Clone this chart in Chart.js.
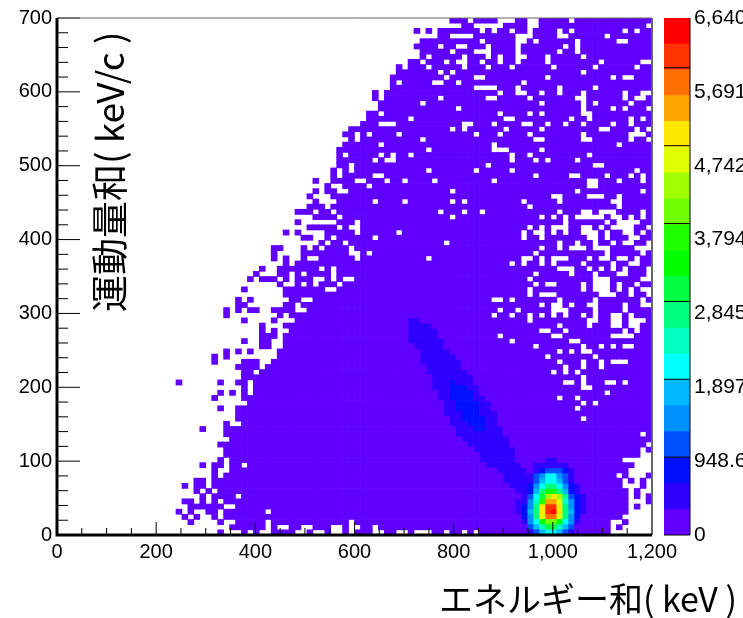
<!DOCTYPE html>
<html>
<head>
<meta charset="utf-8">
<title>エネルギー和 運動量和</title>
<style>
  html, body { margin: 0; padding: 0; background: #fff; overflow: hidden; }
  #wrap { position: relative; width: 743px; height: 618px; }
  #mapChart { position: absolute; left: 0; top: 0; }
  #barChart { position: absolute; left: 655px; top: 0; }
</style>
<script src="https://cdn.jsdelivr.net/npm/chart.js@4"></script>
</head>
<body>
<div id="wrap">
  <canvas id="mapChart" width="743" height="618"></canvas>
  <canvas id="barChart" width="88" height="618"></canvas>
</div>
<script>
// Axis ranges and binning
const xTicks = [0, 200, 400, 600, 800, 1000, 1200];
const yTicks = [0, 100, 200, 300, 400, 500, 600, 700];
const xMinor = [50, 100, 150, 250, 300, 350, 450, 500, 550, 650, 700, 750, 850, 900, 950, 1050, 1100, 1150];
const yMinor = [20, 40, 60, 80, 120, 140, 160, 180, 220, 240, 260, 280, 320, 340, 360, 380, 420, 440, 460, 480, 520, 540, 560, 580, 620, 640, 660, 680];
const zTicks = [0, 1000, 2000, 3000, 4000, 5000, 6000];
const xBin = 12;
const yBin = 7;
const zMax = 6640;

const xTitle = 'エネルギー和( keV )';
const yTitle = '運動量和( keV/c )';

// Palette, lowest contour first
const levelColors = ['#6000ff', '#3000ff', '#0010ff', '#0050ff', '#0090ff', '#00b8ff', '#00ffff', '#00ffc0', '#00ff80', '#00ff40',
  '#00ff00', '#20ff00', '#70ff00', '#a0ff00', '#e0ff00', '#ffe800', '#ffa500', '#ff7000', '#ff3300', '#ff0000'];

// Occupied bins per row, top row first: column numbers and column ranges
const rowSpans = [
  '66-68 70-73 77-78 81-85 87-99',
  '68-69 75-78 81-98',
  '60 62 64-70 72 74-75 77-78 80-83 85 87-94 96 98-99',
  '64-65 70-76 80-83 86-91 93-99',
  '61-70 72-76 79 81-86 88-93 96-99',
  '60-63 65-66 69-71 73-76 78-84 86 88-99',
  '61-65 67-69 73-76 78-83 85-86 88-99',
  '61 63-67 69-71 73 75-76 79-81 83-87 89-99',
  '59-60 62-64 66 69-70 72-73 75-76 78-81 83-90 92-97',
  '57 59-61 63-67 69-71 73-75 77-82 84-89 91-96 98-99',
  '57-63 65 67-87 89-99',
  '56-64 66-69 72-81 83-92 94 97-99',
  '56 58-62 65-66 68-77 79-99',
  '56-69 74-76 78-83 85-89 91-99',
  '53 55-73 75-76 79-80 82-83 85-87 89-94 96-97',
  '53 55-63 65-71 74-78 80-86 89-94 96 99',
  '54-60 62-80 82-87 89 91-95 97-99',
  '54-66 68-87 89-92 94 96-98',
  '52-53 55-73 75-78 80 82-87 90-99',
  '52-58 60-74 77-85 87-88 90-95 97 99',
  '51-53 57-67 70-72 74-77 80-81 83-84 86-87 89-92 94-95 97-99',
  '49-65 67 69-74 76-80 82-90 93-96 98',
  '48-49 51 53-56 58-69 71-73 75-78 80-87 89-95 99',
  '49 51-60 62-79 82-87 90-95 97-98',
  '48-53 55-72 74-93 95-99',
  '47-61 63-72 76-80 82-99',
  '47 49-53 55 57-58 60-75 77-78 80-88 90-99',
  '47-52 54 57-75 77-79 81 83-86 88-99',
  '47-48 50-71 73-89 92-99',
  '46 48 50-61 63-69 71-75 77-96 98-99',
  '46 48-52 55-79 81-85 88-91 93-95 97 99',
  '43 46-49 52-54 56-57 59-62 64-72 74-88 91-93 95-97 99',
  '45 48-51 53-88 91-99',
  '43 45-46 49-99',
  '42 46-99',
  '43 47-99',
  '42-44 46-99',
  '40-42 44-45 47-99',
  '43-46 48-99',
  '40 47-49 51-99',
  '42-46 48 51-99',
  '38 40 45-49 51-56 58-99',
  '41-42 45 47-52 54-99',
  '44 46-47 49-99',
  '36-37 41 43 45-48 50-99',
  '36 41-48 51 53-99',
  '36 38 41 44-49 51-61 63-99',
  '38 40-99',
  '34 37-43 45 47-99',
  '33 37-38 40 42-45 47-99',
  '32 34-36 38 40-42 45 47 50-99',
  '37 40 42 44-46 48-99',
  '31 38-44 47-99',
  '38-99',
  '30 32 39-40 43-99',
  '30-31 38-39 41-99',
  '28 30 32-33 36-39 42-99',
  '28 37 39-99',
  '31 36 40-99',
  '34 38-99',
  '34 36 39-99',
  '34-36 38-99',
  '31 34-35 38-99',
  '34-35 38-99',
  '28 30 32 37-99',
  '26 28 37-99',
  '26 31-33 36-99',
  '30-33 35-99',
  '31-32 34-99',
  '31-99',
  '20 27 30-31 33-99',
  '31 33-99',
  '27 29 31 33-99',
  '26 31-99',
  '32-99',
  '27 30-99',
  '30-99',
  '30-99',
  '28 31-99',
  '24 28-99',
  '28-99',
  '29-99',
  '27-99',
  '28-99',
  '28-99',
  '27 29-94',
  '24 26-27 29-30 32-96',
  '26 29-95',
  '26 28-99',
  '23-24 26-99',
  '21 23-24 26-99',
  '23 25 27-99',
  '24 26-29 31-99',
  '21-22 24 26 28-99',
  '22-27 30-99',
  '20 22 25-26 28-34 36-95',
  '21 23 26 28-94',
  '22 27 30-34 36-48 50-92 95',
  '29-34 36 39-40 43-45 48 51-52 54-92 94',
  '27 31 33 36-39 42 45 48 50-52 55-56 59 63-64 66-67 69 71-92'
];

// Empty bins inside those spans, row number then columns
const rowHoles = {
  33: '66 87 98',
  34: '83 84 89 90 91 94',
  35: '53 58 66 68 78 84 93 94',
  36: '79 94',
  37: '64 68 71 84 88 89 91 92 93 98',
  38: '66 81 83 85 87 88 89 90 91 93 94 96 98',
  39: '85 92 94 95 96 97',
  40: '79 81 83 84 85 88 89 91 93 94 95 96 99',
  41: '78 80 81 83 85 88 89 90 92 95 96 98',
  42: '78 81 89 90 92 96 97',
  43: '65 84 87 90 93 95 96 99',
  44: '81 84 86 87 88 90 91 92 97 98 99',
  45: '80 92 98',
  46: '78 79 81 83 84 85 89 91 92 94 95 97',
  47: '76 78 81 83 88 93 96 97',
  48: '84 85 86 89 91 93 95 99',
  49: '80 86 90 94 95 99',
  50: '79 90 91 92 98 99',
  51: '80 82 83 88 90 91 92 94 97',
  52: '79 88 90 91 92 94 96 98 99',
  53: '79 81 82 83 91 92 93 96 99',
  54: '73 74 76 84 90 98',
  55: '81 83 84 86 89 90 95 98 99',
  56: '74 77 83 84 85 90 95',
  57: '73 76 79 81 83 85 88 90 93 94 96',
  58: '79 89 90 93 94 96 97 98',
  59: '84 89 93 94 96 97',
  60: '81 82 85 95 97',
  61: '74 83 84 93 94 95 96',
  62: '76 86 87',
  63: '80 88 91 93 95 96',
  64: '84 86 88 89',
  65: '82 90',
  66: '84 88 91 93 94 95',
  67: '85 88 91',
  68: '83 85 87',
  69: '88',
  70: '85 86 88 92 93 95',
  71: '88 89',
  72: '92',
  73: '84 87',
  74: '88 90',
  75: '87',
  77: '88',
  80: '98',
  82: '99',
  83: '98',
  84: '98 99',
  85: '95 97 98',
  87: '',
  88: '94 96 97 98',
  89: '95 97 99',
  90: '95 96 97 99',
  91: '96 98 99',
  92: '96 98',
  93: '96 97 98',
  94: '96 98 99'
};

// Contour level of the low diagonal band, [row, first column, last column, level]
const bandRuns = [
  [58, 59, 60, 1], [59, 59, 62, 1], [60, 59, 63, 1], [61, 59, 63, 1], [62, 59, 64, 1], [63, 60, 64, 1], [64, 61, 65, 1],
  [65, 61, 66, 1], [66, 61, 67, 1], [67, 62, 67, 1], [68, 62, 68, 1], [69, 63, 69, 1], [70, 63, 69, 1], [71, 63, 70, 1],
  [72, 64, 70, 1], [73, 64, 71, 1], [74, 65, 72, 1], [75, 65, 72, 1], [76, 65, 73, 1], [77, 66, 73, 1], [78, 66, 73, 1],
  [79, 67, 74, 1], [80, 67, 74, 1], [81, 68, 75, 1], [82, 69, 75, 1], [83, 70, 76, 1], [84, 71, 76, 1], [85, 71, 76, 1],
  [86, 72, 77, 1], [87, 74, 78, 1], [88, 75, 78, 1], [89, 75, 78, 1], [90, 76, 77, 1], [91, 77, 77, 1],
  [70, 66, 66, 2], [71, 66, 68, 2], [72, 66, 69, 2], [73, 66, 69, 2], [74, 67, 70, 2], [75, 67, 70, 2], [76, 68, 70, 2],
  [77, 68, 71, 2], [78, 69, 71, 2], [79, 70, 71, 2]
];

// Peak near (1000, 35): row, first column, contour levels (0-9 then a-j)
const peakRows = [
  [85, 82, '11'],
  [86, 80, '111111'],
  [87, 80, '1233321'],
  [88, 79, '13466431'],
  [89, 79, '13566531'],
  [90, 78, '1246886421'],
  [91, 78, '1258aa8521'],
  [92, 78, '1369dfd8321'],
  [93, 77, '1147bgge7421'],
  [94, 77, '1248fiif8421'],
  [95, 77, '1258fijf8521'],
  [96, 78, '248ehhe842'],
  [97, 78, '146acca641'],
  [98, 79, '35799753'],
  [99, 79, '13566531']
];

// Build one level grid from the lists above
const grid = rowSpans.map((spans, row) => {
  const cells = new Array(100).fill(-1);
  spans.split(' ').forEach(span => {
    const ends = span.split('-').map(Number);
    const last = ends.length > 1 ? ends[1] : ends[0];
    for (let c = ends[0]; c <= last; c++) cells[c] = 0;
  });
  if (rowHoles[row]) {
    rowHoles[row].split(' ').filter(Boolean).forEach(c => { cells[Number(c)] = -1; });
  }
  return cells;
});
bandRuns.forEach(run => {
  for (let c = run[1]; c <= run[2]; c++) grid[run[0]][c] = run[3];
});
peakRows.forEach(peak => {
  peak[2].split('').forEach((ch, i) => { grid[peak[0]][peak[1] + i] = parseInt(ch, 20); });
});

// One floating-bar dataset per contour level
const levelData = levelColors.map(() => []);
grid.forEach((cells, row) => {
  const top = 700 - row * yBin;
  cells.forEach((level, col) => {
    if (level >= 0) levelData[level].push({ x: col * xBin + xBin / 2, y: [top - yBin, top] });
  });
});

const tickFont = { family: '"Liberation Sans", Arial, sans-serif', size: 20 };

// ROOT style axes: ticks point inward and sit on top of the cells
const frameAxes = {
  id: 'frameAxes',
  afterDatasetsDraw(chart) {
    const { ctx, chartArea: a, scales: { x, y } } = chart;
    ctx.save();
    ctx.strokeStyle = '#000';
    ctx.lineWidth = 1;
    ctx.beginPath();
    xTicks.forEach(v => { ctx.moveTo(x.getPixelForValue(v), a.bottom); ctx.lineTo(x.getPixelForValue(v), a.bottom - 13); });
    xMinor.forEach(v => { ctx.moveTo(x.getPixelForValue(v), a.bottom); ctx.lineTo(x.getPixelForValue(v), a.bottom - 7); });
    yTicks.forEach(v => { ctx.moveTo(a.left, y.getPixelForValue(v)); ctx.lineTo(a.left + 23, y.getPixelForValue(v)); });
    yMinor.forEach(v => { ctx.moveTo(a.left, y.getPixelForValue(v)); ctx.lineTo(a.left + 11, y.getPixelForValue(v)); });
    ctx.stroke();

    ctx.strokeStyle = '#666';
    ctx.beginPath();
    ctx.moveTo(a.left, a.top);
    ctx.lineTo(a.right, a.top);
    ctx.stroke();
    ctx.lineWidth = 2;
    ctx.beginPath();
    ctx.moveTo(a.right, a.top);
    ctx.lineTo(a.right, a.bottom);
    ctx.stroke();

    ctx.strokeStyle = '#000';
    ctx.lineWidth = 3;
    ctx.beginPath();
    ctx.moveTo(a.left, a.top);
    ctx.lineTo(a.left, a.bottom);
    ctx.lineTo(a.right, a.bottom);
    ctx.stroke();

    // Axis titles sit at fixed spots, the y one inside the frame
    ctx.fillStyle = '#000';
    ctx.textBaseline = 'alphabetic';
    ctx.font = '34px "Noto Sans CJK JP", sans-serif';
    ctx.textAlign = 'right';
    ctx.fillText(xTitle, 737, 612);
    ctx.translate(124, 312);
    ctx.rotate(-Math.PI / 2);
    ctx.textAlign = 'left';
    ctx.font = '37px "Noto Sans CJK JP", sans-serif';
    ctx.fillText(yTitle, 0, 0);
    ctx.restore();
  }
};

new Chart(document.getElementById('mapChart'), {
  type: 'bar',
  data: {
    datasets: levelData.map((points, i) => ({
      data: points,
      backgroundColor: levelColors[i],
      grouped: false,
      barPercentage: 1,
      categoryPercentage: 1
    }))
  },
  options: {
    responsive: false,
    animation: false,
    layout: { padding: { top: 18, right: 91, left: 0, bottom: 0 } },
    plugins: { legend: { display: false }, tooltip: { enabled: false } },
    scales: {
      x: {
        type: 'linear',
        offset: false,
        min: 0,
        max: 1200,
        grid: { display: false, drawTicks: false },
        border: { display: false },
        afterFit: scale => { scale.height = 83; },
        ticks: { stepSize: 200, autoSkip: false, maxRotation: 0, padding: 5, color: '#000', font: tickFont }
      },
      y: {
        min: 0,
        max: 700,
        grid: { display: false, drawTicks: false },
        border: { display: false },
        afterFit: scale => { scale.width = 57; },
        ticks: { stepSize: 100, autoSkip: false, padding: 5, color: '#000', font: tickFont }
      }
    }
  },
  plugins: [frameAxes]
});

// Colour scale: equal contour steps up to the maximum
const levelStep = zMax / levelColors.length;

const scaleAxes = {
  id: 'scaleAxes',
  afterDatasetsDraw(chart) {
    const { ctx, chartArea: a, scales: { y } } = chart;
    ctx.save();
    ctx.strokeStyle = '#000';
    ctx.lineWidth = 1;
    ctx.beginPath();
    zTicks.forEach(v => { ctx.moveTo(a.left, y.getPixelForValue(v)); ctx.lineTo(a.right, y.getPixelForValue(v)); });
    ctx.moveTo(a.right, a.top);
    ctx.lineTo(a.right, a.bottom);
    ctx.stroke();
    ctx.restore();
  }
};

new Chart(document.getElementById('barChart'), {
  type: 'bar',
  data: {
    labels: ['z'],
    datasets: levelColors.map((color, i) => ({
      data: [[i * levelStep, (i + 1) * levelStep]],
      backgroundColor: color,
      grouped: false,
      barPercentage: 1,
      categoryPercentage: 1
    }))
  },
  options: {
    responsive: false,
    animation: false,
    layout: { padding: { top: 18, bottom: 83, left: 9, right: 0 } },
    plugins: { legend: { display: false }, tooltip: { enabled: false } },
    scales: {
      x: { display: false },
      y: {
        position: 'right',
        min: 0,
        max: zMax,
        grid: { display: false, drawTicks: false },
        border: { display: false },
        afterFit: scale => { scale.width = 53; },
        ticks: { stepSize: 1000, includeBounds: false, padding: 4, color: '#000', font: { family: tickFont.family, size: 21 } }
      }
    }
  },
  plugins: [scaleAxes]
});
</script>
</body>
</html>
